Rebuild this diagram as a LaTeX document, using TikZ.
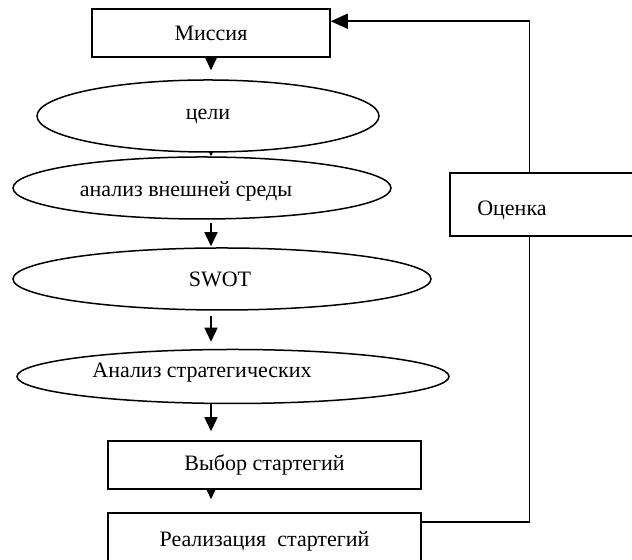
\documentclass[tikz,border=0pt]{standalone}
\usepackage{fontspec}
\setmainfont{Liberation Serif}
\usetikzlibrary{shapes.geometric,arrows.meta}

\begin{document}
\begin{tikzpicture}[x=0.5pt,y=0.5pt,
  font=\fontsize{11}{13}\selectfont,
  box/.style={draw,line width=0.75pt,rectangle,inner sep=0pt},
  oval/.style={draw,line width=0.75pt,ellipse,inner sep=0pt},
  arr/.style={line width=0.75pt,-{Triangle[width=6.5pt,length=7pt]}}]
  % frame
  \useasboundingbox (0,0) rectangle (632,560);
  \clip (0,0) rectangle (632,560);
  % boxes
  \node[box,minimum width=119pt,minimum height=24pt] (mission) at (211,527) {Миссия};
  \node[oval,minimum width=171pt,minimum height=36pt] (goals) at (208,444) {цели};
  \node[oval,minimum width=189pt,minimum height=31pt,
    label={[xshift=-8pt,yshift=-1.5pt]center:анализ внешней среды}] (env) at (202,372) {};
  \node[oval,minimum width=209pt,minimum height=31pt,
    label={[xshift=-1pt]center:SWOT}] (swot) at (222,281) {};
  \node[oval,minimum width=216pt,minimum height=27pt,
    label={[xshift=-15.5pt,yshift=2pt]center:Анализ стратегических}] (strat) at (233,183.5) {};
  \node[box,minimum width=156.5pt,minimum height=24pt] (choice) at (264.5,95) {Выбор стартегий};
  \node[box,minimum width=156.5pt,minimum height=28pt] (impl) at (264.5,19) {Реализация~~стартегий};
  \node[box,minimum width=115pt,minimum height=31.5pt,
    label={[anchor=west,xshift=10.5pt,yshift=-2.75pt]west:Оценка}] (eval) at (565,355.5) {};
  % arrows
  \draw[arr,shorten <=-5.5pt,shorten >=4.5pt] (mission.south) -- (mission.south |- goals.north);
  \draw[line width=0.75pt,-{Triangle[width=2.5pt,length=2.5pt]}] (mission.south |- goals.south) -- (mission.south |- env.north);
  \draw[arr,shorten <=1.5pt,shorten >=0.5pt] (mission.south |- env.south) -- (mission.south |- swot.north);
  \draw[arr,shorten <=2.5pt,shorten >=3.5pt] (mission.south |- swot.south) -- (mission.south |- strat.north);
  \draw[arr,shorten >=4.5pt] (mission.south |- strat.south) -- (mission.south |- choice.north);
  \draw[line width=0.75pt,-{Triangle[width=5pt,length=5.5pt]},shorten >=6.5pt] (mission.south |- choice.south) -- (mission.south |- impl.north);
  % feedback
  \draw[line width=0.75pt] ([yshift=-5pt]impl.north east) -| ([xshift=40pt]eval.south west);
  \draw[arr,-{Triangle[width=7.5pt,length=8.5pt]}] ([xshift=40pt]eval.north west) |- ([yshift=-6.5pt]mission.north east);
\end{tikzpicture}
\end{document}
